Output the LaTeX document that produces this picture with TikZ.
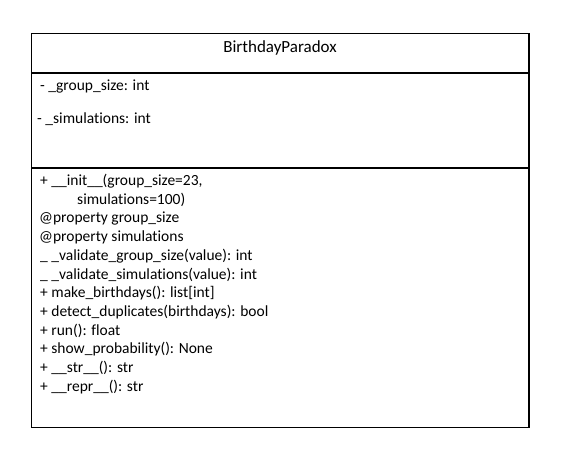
\documentclass[tikz,border=0pt]{standalone}
\usepackage{fontspec}
\setmainfont{Carlito}[Ligatures={NoCommon,NoContextual}]
\usetikzlibrary{positioning}

\tikzset{
  member/.style={anchor=base west, inner sep=0pt, font=\fontsize{15.5}{18}\selectfont},
  classname/.style={anchor=base, inner sep=0pt, font=\fontsize{17}{20}\selectfont}
}

\begin{document}
\begin{tikzpicture}[x=1pt, y=-1pt]
  \useasboundingbox (0,0) rectangle (569,465);

  % Class box
  \coordinate (Box_TL) at (31.5, 33.5);
  \coordinate (Box_BR) at (529, 427.5);
  \draw[line width=1.1pt] (Box_TL) rectangle (Box_BR);

  % Compartment dividers
  \coordinate (Div1_L) at (31.5, 73);
  \coordinate (Div1_R) at (529, 73);
  \coordinate (Div2_L) at (31.5, 168);
  \coordinate (Div2_R) at (529, 168);
  \draw[line width=1.1pt] (Div1_L) -- (Div1_R);
  \draw[line width=1.1pt] (Div2_L) -- (Div2_R);

  % Class name
  \node[classname] (name) at (280, 52.5) {BirthdayParadox};

  % Attributes
  \node[member] (groupsize) at (40, 90.5) {- \_group\_size: int};
  \node[member] (simulations) at (37, 124) {- \_simulations: int};

  % Methods
  \node[member] (init) at (40, 185.5) {+ \_\_init\_\_(group\_size=23,};
  \node[member] (initcont) at (77, 204.2) {simulations=100)};
  \node[member] (propgroup) at (39, 222.9) {@property group\_size};
  \node[member] (propsim) at (39, 241.6) {@property simulations};
  \node[member] (valgroup) at (40, 260.3) {\_ \_validate\_group\_size(value): int};
  \node[member] (valsim) at (40, 279) {\_ \_validate\_simulations(value): int};
  \node[member] (make) at (40, 297.7) {+ make\_birthdays(): list[int]};
  \node[member] (detect) at (40, 316.4) {+ detect\_duplicates(birthdays): bool};
  \node[member] (run) at (40, 335.1) {+ run(): float};
  \node[member] (show) at (40, 353.8) {+ show\_probability(): None};
  \node[member] (str) at (40, 372.5) {+ \_\_str\_\_(): str};
  \node[member] (repr) at (40, 391.2) {+ \_\_repr\_\_(): str};
\end{tikzpicture}
\end{document}
